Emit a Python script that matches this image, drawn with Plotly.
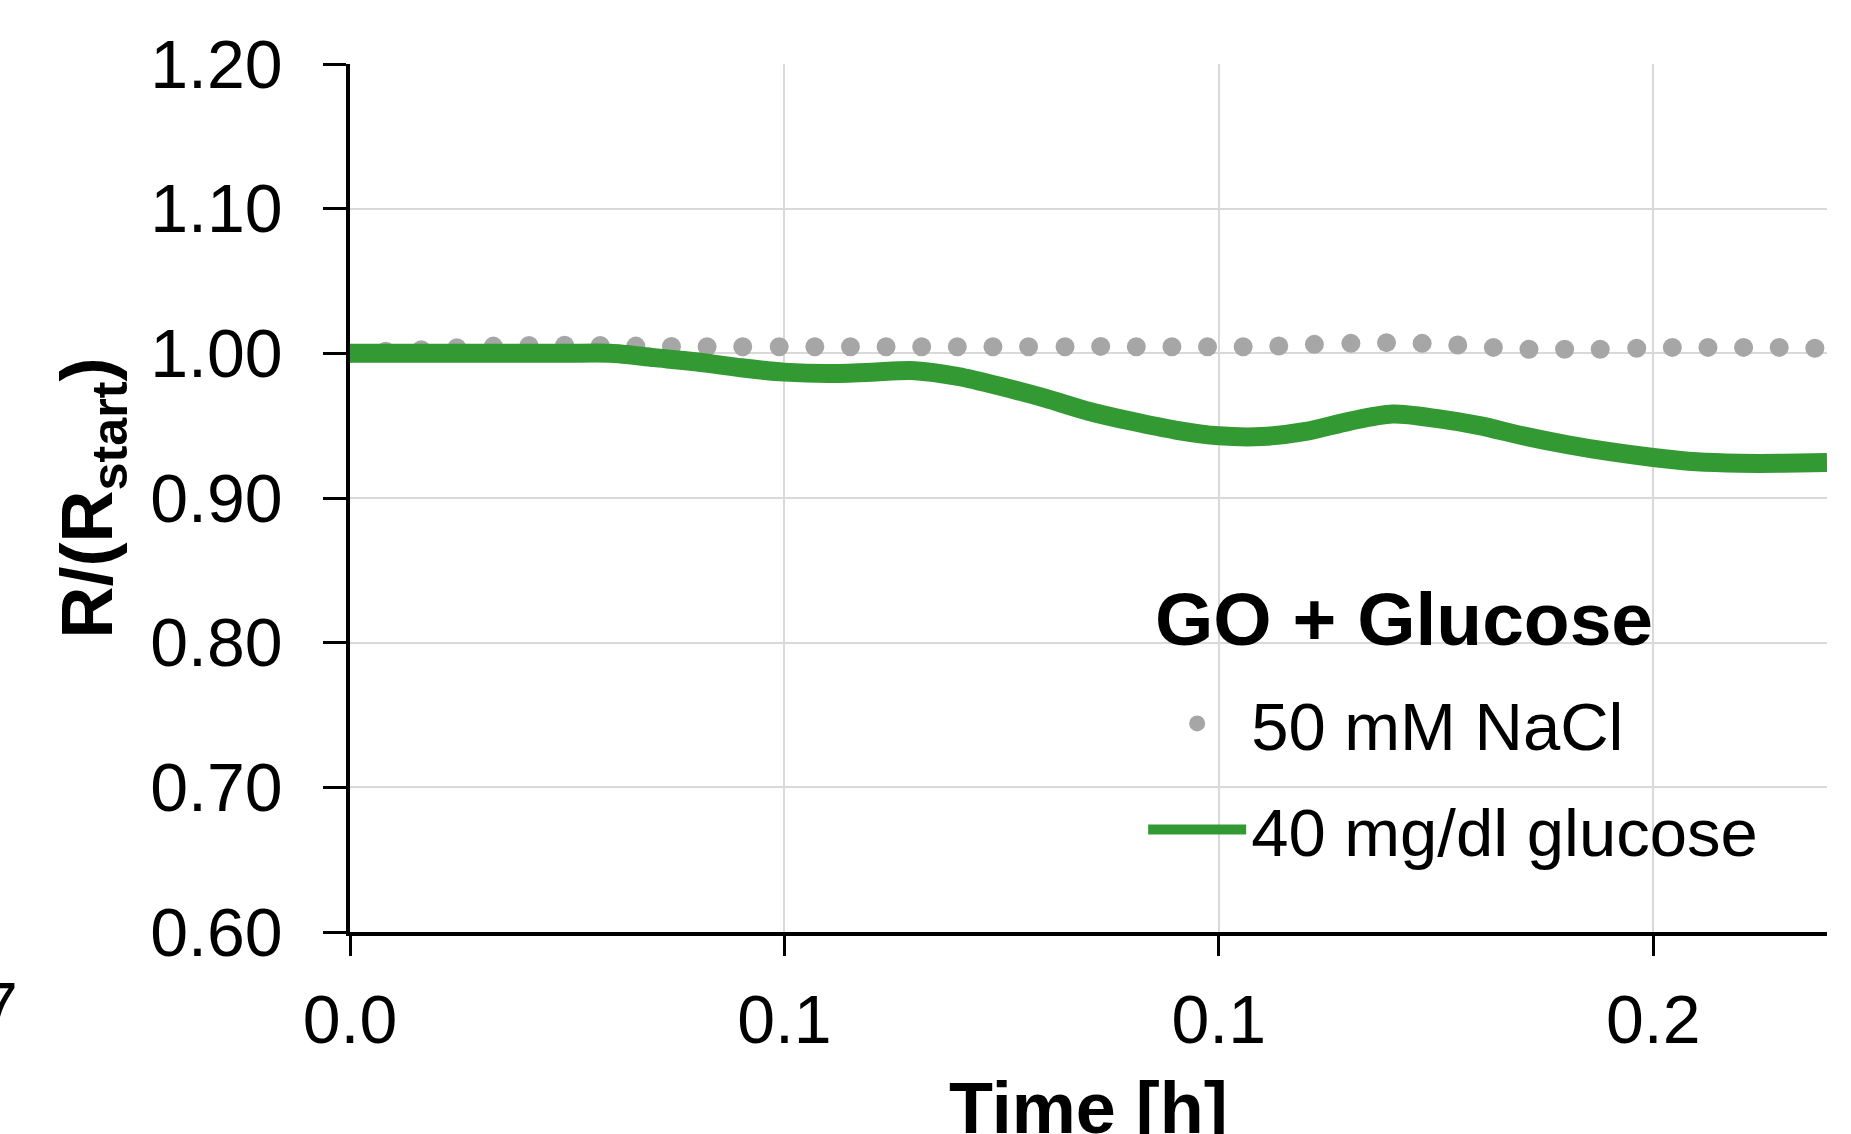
import plotly.graph_objects as go

# ---- data ----
time_glucose = [0.000, 0.005, 0.010, 0.015, 0.020, 0.025, 0.030, 0.035, 0.040, 0.045,
                0.050, 0.055, 0.060, 0.065, 0.070, 0.075, 0.080, 0.085, 0.090, 0.095,
                0.100, 0.105, 0.110, 0.115, 0.120, 0.125, 0.130, 0.135, 0.140, 0.145,
                0.150, 0.155, 0.160, 0.165, 0.170]
glucose_40 = [1.000, 1.000, 1.000, 1.000, 1.000, 1.000, 1.000, 0.997, 0.994, 0.990,
              0.987, 0.986, 0.987, 0.988, 0.984, 0.977, 0.969, 0.960, 0.953, 0.947,
              0.943, 0.9425, 0.946, 0.953, 0.958, 0.955, 0.950, 0.943, 0.937, 0.932,
              0.928, 0.925, 0.924, 0.924, 0.9245]

time_nacl = [0.0000, 0.0041, 0.0082, 0.0123, 0.0165, 0.0206, 0.0247, 0.0288, 0.0329, 0.0370,
             0.0411, 0.0452, 0.0494, 0.0535, 0.0576, 0.0617, 0.0658, 0.0699, 0.0740, 0.0781,
             0.0823, 0.0864, 0.0905, 0.0946, 0.0987, 0.1028, 0.1069, 0.1110, 0.1152, 0.1193,
             0.1234, 0.1275, 0.1316, 0.1357, 0.1398, 0.1439, 0.1481, 0.1522, 0.1563, 0.1604,
             0.1645, 0.1686]
nacl_50 = [1.0000, 1.0015, 1.0025, 1.0038, 1.0050, 1.0055, 1.0056, 1.0054, 1.0050, 1.0048,
           1.0046, 1.0046, 1.0046, 1.0046, 1.0046, 1.0046, 1.0046, 1.0046, 1.0046, 1.0046,
           1.0046, 1.0048, 1.0046, 1.0046, 1.0046, 1.0046, 1.0051, 1.0062, 1.0069, 1.0074,
           1.0069, 1.0058, 1.0041, 1.0028, 1.0028, 1.0028, 1.0035, 1.0041, 1.0041, 1.0041,
           1.0041, 1.0035]

x_tickvals = [0.0, 0.05, 0.10, 0.15]
x_ticktext = ["0.0", "0.1", "0.1", "0.2"]

FONT = "Liberation Sans, Arial, sans-serif"

fig = go.Figure()
fig.add_trace(go.Scatter(
    x=time_nacl, y=nacl_50, mode="markers", name="50 mM NaCl",
    marker=dict(color="#A6A6A6", size=19, line=dict(width=0)),
    legendgroup="a",
))
fig.add_trace(go.Scatter(
    x=time_glucose, y=glucose_40, mode="lines", name="40 mg/dl glucose",
    line=dict(color="#339933", width=19, shape="spline", smoothing=0.8),
    legendgroup="b",
))

# legend heading
fig.add_annotation(text="<b>GO + Glucose</b>", xref="paper", yref="paper",
                   x=0.5437, y=0.4113, xanchor="left", yanchor="top", showarrow=False,
                   font=dict(family=FONT, size=75, color="black"))

# x-axis title (placed as annotation so it can run past the bottom edge like the reference)
fig.add_annotation(text="<b>Time [h]</b>", xref="paper", yref="paper",
                   x=0.5, y=-0.1544, xanchor="center", yanchor="top", showarrow=False,
                   font=dict(family=FONT, size=72, color="black"))

# fragment of a neighbouring label at the left edge
fig.add_annotation(text="7", xref="paper", yref="paper", x=-0.2234, y=-0.0853,
                   xanchor="right", yanchor="middle", showarrow=False,
                   font=dict(family=FONT, size=68, color="black"))

fig.update_layout(
    width=1851, height=1134,
    margin=dict(l=350, r=24, t=64, b=202, autoexpand=False),
    plot_bgcolor="white", paper_bgcolor="white",
    font=dict(family=FONT, color="black"),
    showlegend=True,
    legend=dict(
        x=0.537, y=0.298, xanchor="left", yanchor="top",
        bgcolor="rgba(0,0,0,0)", borderwidth=0,
        font=dict(family=FONT, size=67, color="black"),
        itemwidth=98, tracegroupgap=16, traceorder="grouped",
    ),
    xaxis=dict(
        range=[0, 0.17], tickvals=x_tickvals, ticktext=x_ticktext,
        showline=True, linecolor="black", linewidth=3.5,
        ticks="outside", ticklen=20, tickwidth=3, tickcolor="black",
        showgrid=True, gridcolor="#D9D9D9", gridwidth=2, zeroline=False,
        tickfont=dict(family=FONT, size=68, color="black"),
        ticklabelstandoff=6,
    ),
    yaxis=dict(
        range=[0.6, 1.2], dtick=0.1, tick0=0.6, tickformat=".2f",
        showline=True, linecolor="black", linewidth=3.5,
        ticks="outside", ticklen=23, tickwidth=3, tickcolor="black",
        showgrid=True, gridcolor="#D9D9D9", gridwidth=2, zeroline=False,
        tickfont=dict(family=FONT, size=68, color="black"),
        ticklabelstandoff=27,
        title=dict(text="<b>R/(R<sub>start</sub>)</b>", font=dict(family=FONT, size=72, color="black"), standoff=15),
    ),
)

fig.write_html("out.html")
